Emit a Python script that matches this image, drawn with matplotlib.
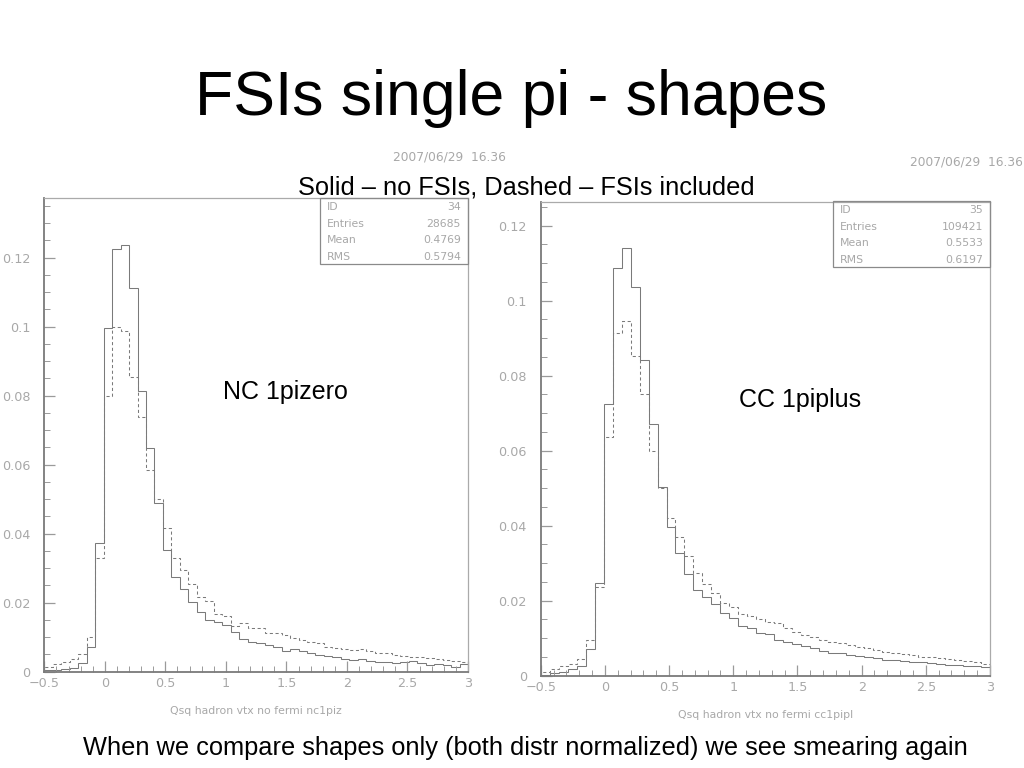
import numpy as np
import matplotlib
matplotlib.use('Agg')
import matplotlib.pyplot as plt
from matplotlib.ticker import MultipleLocator, FixedLocator, FixedFormatter

# binning shared by both histograms: 50 bins from -0.5 to 3
edges = np.linspace(-0.5, 3.0, 51)

# NC 1pizero (left) - solid = no FSIs, dashed = FSIs included
nc_solid = [0.0004, 0.0004, 0.0008, 0.0012, 0.0024, 0.0071, 0.0372, 0.0995, 0.1225, 0.1236,
            0.1111, 0.0814, 0.0648, 0.0490, 0.0353, 0.0274, 0.0240, 0.0201, 0.0172, 0.0149,
            0.0143, 0.0135, 0.0115, 0.0096, 0.0087, 0.0084, 0.0077, 0.0072, 0.0061, 0.0065,
            0.0061, 0.0055, 0.0048, 0.0045, 0.0042, 0.0036, 0.0034, 0.0037, 0.0031, 0.0029,
            0.0029, 0.0024, 0.0028, 0.0030, 0.0026, 0.0020, 0.0022, 0.0019, 0.0015, 0.0022]
nc_dashed = [0.0015, 0.0022, 0.0029, 0.0036, 0.0052, 0.0101, 0.0329, 0.0800, 0.1000, 0.0988,
             0.0855, 0.0737, 0.0585, 0.0500, 0.0416, 0.0329, 0.0295, 0.0254, 0.0216, 0.0205,
             0.0167, 0.0160, 0.0133, 0.0140, 0.0126, 0.0126, 0.0113, 0.0111, 0.0106, 0.0097,
             0.0092, 0.0087, 0.0082, 0.0073, 0.0068, 0.0065, 0.0063, 0.0066, 0.0061, 0.0055,
             0.0053, 0.0048, 0.0046, 0.0044, 0.0042, 0.0039, 0.0036, 0.0034, 0.0032, 0.0028]

# CC 1piplus (right)
cc_solid = [0.0002, 0.0006, 0.0010, 0.0017, 0.0026, 0.0070, 0.0246, 0.0725, 0.1088, 0.1140,
            0.1037, 0.0841, 0.0670, 0.0502, 0.0397, 0.0326, 0.0270, 0.0229, 0.0211, 0.0190,
            0.0166, 0.0153, 0.0133, 0.0126, 0.0115, 0.0111, 0.0095, 0.0091, 0.0085, 0.0079,
            0.0073, 0.0067, 0.0061, 0.0060, 0.0055, 0.0053, 0.0049, 0.0046, 0.0042, 0.0042,
            0.0039, 0.0037, 0.0036, 0.0033, 0.0031, 0.0029, 0.0029, 0.0027, 0.0026, 0.0022]
cc_dashed = [0.0010, 0.0017, 0.0026, 0.0031, 0.0045, 0.0095, 0.0237, 0.0637, 0.0913, 0.0945,
             0.0853, 0.0750, 0.0600, 0.0500, 0.0420, 0.0369, 0.0319, 0.0273, 0.0245, 0.0221,
             0.0195, 0.0184, 0.0165, 0.0159, 0.0150, 0.0144, 0.0140, 0.0126, 0.0117, 0.0108,
             0.0104, 0.0095, 0.0091, 0.0086, 0.0082, 0.0077, 0.0073, 0.0069, 0.0064, 0.0061,
             0.0058, 0.0055, 0.0051, 0.0049, 0.0046, 0.0044, 0.0042, 0.0039, 0.0037, 0.0031]

x_ticks = [-0.5, 0, 0.5, 1, 1.5, 2, 2.5, 3]
x_labels = ['\u22120.5', '0', '0.5', '1', '1.5', '2', '2.5', '3']
y_ticks = [0, 0.02, 0.04, 0.06, 0.08, 0.1, 0.12]
y_labels = ['0', '0.02', '0.04', '0.06', '0.08', '0.1', '0.12']

stat_names = ['ID', 'Entries', 'Mean', 'RMS']
nc_stats = ['34', '28685', '0.4769', '0.5794']
cc_stats = ['35', '109421', '0.5533', '0.6197']

plt.rcParams['font.family'] = ['Liberation Sans', 'DejaVu Sans']

fig = plt.figure(figsize=(10.24, 7.68), dpi=100)
fig.patch.set_facecolor('white')

gray = '#9a9a9a'
txt_gray = '#a8a8a8'
line_col = '#7a7a7a'


def draw_panel(rect, ymax, solid, dashed, xlabel, stats, box_rect, label, label_xy):
    ax = fig.add_axes(rect)
    ax.stairs(solid, edges, color=line_col, lw=0.75)
    ax.stairs(dashed, edges, color=line_col, lw=0.75, linestyle=(0, (3, 2.5)))
    ax.set_xlim(-0.5, 3.0)
    ax.set_ylim(0, ymax)
    ax.xaxis.set_major_locator(FixedLocator(x_ticks))
    ax.xaxis.set_major_formatter(FixedFormatter(x_labels))
    ax.yaxis.set_major_locator(FixedLocator(y_ticks))
    ax.yaxis.set_major_formatter(FixedFormatter(y_labels))
    ax.xaxis.set_minor_locator(MultipleLocator(0.1))
    ax.yaxis.set_minor_locator(MultipleLocator(0.005))
    ax.tick_params(which='both', direction='in', colors=gray, labelcolor=txt_gray,
                   labelsize=9.2, top=False, right=False)
    ax.tick_params(which='major', length=8, width=0.9)
    ax.tick_params(which='minor', length=4, width=0.7)
    ax.tick_params(axis='y', pad=10)
    ax.tick_params(axis='x', pad=4)
    for lab in ax.get_xticklabels() + ax.get_yticklabels():
        lab.set_family('DejaVu Sans')
    for s in ['left', 'bottom']:
        ax.spines[s].set_color('#7a7a7a')
        ax.spines[s].set_linewidth(1.3)
    for s in ['top', 'right']:
        ax.spines[s].set_color('#aaaaaa')
        ax.spines[s].set_linewidth(0.9)
    ax.set_xlabel(xlabel, color=txt_gray, fontsize=7.8, family='DejaVu Sans', labelpad=11)

    # statistics box
    bx, by, bw, bh = box_rect
    fig.patches.append(plt.Rectangle((bx, by), bw, bh, transform=fig.transFigure,
                                     fill=False, edgecolor='#8a8a8a', lw=0.9))
    for i, (n, v) in enumerate(zip(stat_names, stats)):
        yy = by + bh - (i + 0.55) * bh / 4
        fig.text(bx + 0.007, yy, n, color=txt_gray, fontsize=7.8,
                 family='DejaVu Sans', va='center', ha='left')
        fig.text(bx + bw - 0.007, yy, v, color=txt_gray, fontsize=7.8,
                 family='DejaVu Sans', va='center', ha='right')

    fig.text(label_xy[0], label_xy[1], label, fontsize=18, ha='center', va='center')
    return ax


W, H = 1024.0, 768.0

draw_panel([44.3 / W, (H - 671.7) / H, (468 - 44.3) / W, (671.7 - 198) / H], 0.1373,
           nc_solid, nc_dashed, 'Qsq hadron vtx no fermi nc1piz', nc_stats,
           (320 / W, (H - 264) / H, (468 - 320) / W, (264 - 198) / H),
           'NC 1pizero', (285 / W, (H - 392) / H))

draw_panel([540.7 / W, (H - 675.7) / H, (990 - 540.7) / W, (675.7 - 201.7) / H], 0.1264,
           cc_solid, cc_dashed, 'Qsq hadron vtx no fermi cc1pipl', cc_stats,
           (833 / W, (H - 267) / H, (990 - 833) / W, (267 - 201) / H),
           'CC 1piplus', (800 / W, (H - 400) / H))

# date stamps
fig.text(393 / W, (H - 157) / H, '2007/06/29  16.36', color=txt_gray, fontsize=8.8,
         family='DejaVu Sans', va='center', ha='left')
fig.text(910 / W, (H - 162) / H, '2007/06/29  16.36', color=txt_gray, fontsize=8.8,
         family='DejaVu Sans', va='center', ha='left')

fig.text(511 / W, (H - 98) / H, 'FSIs single pi - shapes', fontsize=45, ha='center', va='center')
fig.text(526 / W, (H - 187) / H, 'Solid \u2013 no FSIs, Dashed \u2013 FSIs included',
         fontsize=18.3, ha='center', va='center')
fig.text(525 / W, (H - 748) / H,
         'When we compare shapes only (both distr normalized) we see smearing again',
         fontsize=18.3, ha='center', va='center')

fig.savefig('out.png', dpi=100, facecolor='white')
